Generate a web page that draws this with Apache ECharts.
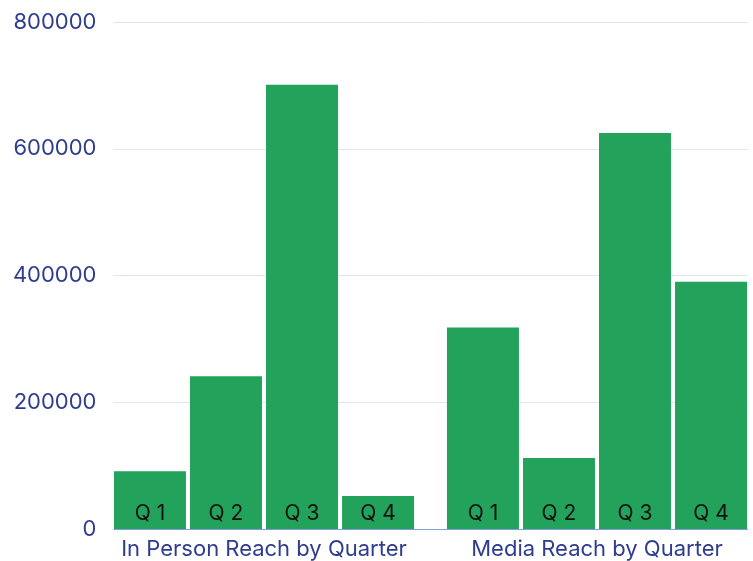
<!DOCTYPE html>
<html>
<head>
<meta charset="utf-8">
<script src="https://cdn.jsdelivr.net/npm/echarts@6/dist/echarts.min.js"></script>
<style>
  html, body { margin: 0; padding: 0; background: #ffffff; }
  #chart { width: 753px; height: 561px; }
</style>
</head>
<body>
<div id="chart"></div>
<script>
// Reach per quarter, split into in-person and media channels
const categories = ['In Person Reach by Quarter', 'Media Reach by Quarter'];
const quarterNames = ['Q 1', 'Q 2', 'Q 3', 'Q 4'];
const q1Values = [91000, 318000];
const q2Values = [241000, 112000];
const q3Values = [701000, 625000];
const q4Values = [52000, 390000];
const yTicks = { min: 0, max: 800000, interval: 200000 };

const quarterValues = [q1Values, q2Values, q3Values, q4Values];
const fontFamily = 'Inter, "Liberation Sans", Arial, sans-serif';

const chart = echarts.init(document.getElementById('chart'), null, { renderer: 'canvas' });

chart.setOption({
  animation: false,
  backgroundColor: '#ffffff',
  grid: { left: 97.5, top: 22, width: 666, bottom: 32, containLabel: false, outerBoundsMode: 'none' },
  xAxis: {
    type: 'category',
    data: categories,
    axisTick: { show: false },
    axisLine: { show: true, lineStyle: { color: '#7f9fd6', width: 1 } },
    axisLabel: {
      color: '#2e3d8f', fontSize: 22, fontFamily: fontFamily, margin: 9,
      interval: 0, hideOverlap: false, showMinLabel: true, showMaxLabel: true
    }
  },
  yAxis: {
    type: 'value',
    min: yTicks.min,
    max: yTicks.max,
    interval: yTicks.interval,
    axisLine: { show: false },
    axisTick: { show: false },
    splitLine: { lineStyle: { color: '#dfe5f2', width: 1 } },
    axisLabel: { color: '#2e3d8f', fontSize: 22, fontFamily: fontFamily, margin: 1, formatter: (v) => String(v) }
  },
  series: quarterNames.map((name, i) => ({
    name: name,
    type: 'bar',
    data: quarterValues[i],
    barWidth: 72,
    barGap: '5.6%',
    itemStyle: { color: '#22a25a' },
    label: {
      show: true,
      position: 'insideBottom',
      distance: 5,
      formatter: '{a}',
      color: '#111111',
      fontSize: 21,
      fontFamily: fontFamily
    }
  })),
  graphic: [
    // keep the gridlines and axis line inside the plotted band
    { type: 'rect', z: 100, shape: { x: 97, y: 10, width: 16.5, height: 525 }, style: { fill: '#ffffff' } },
    { type: 'rect', z: 100, shape: { x: 748, y: 10, width: 10, height: 525 }, style: { fill: '#ffffff' } }
  ]
});
</script>
</body>
</html>
